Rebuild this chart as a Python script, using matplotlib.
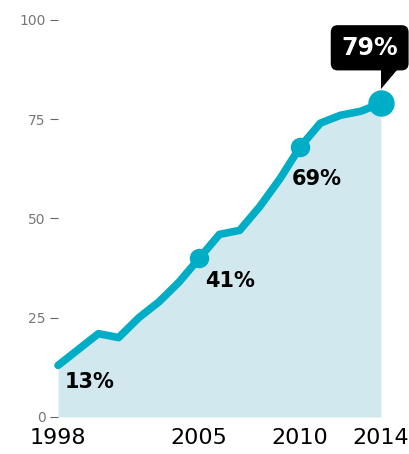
import matplotlib
matplotlib.use("Agg")
from matplotlib import pyplot as plt
from matplotlib.patches import Polygon

# share of value, per year
years = [1998, 1999, 2000, 2001, 2002, 2003, 2004, 2005, 2006, 2007,
         2008, 2009, 2010, 2011, 2012, 2013, 2014]
values = [13, 17, 21, 20, 25, 29, 34, 40, 46, 47,
          53, 60, 68, 74, 76, 77, 79]
marked_years = [2005, 2010]
marked_labels = ["41%", "69%"]
label_offsets = [(4, -9), (-6, -16)]
yticks = [0, 25, 50, 75, 100]
xticks = [1998, 2005, 2010, 2014]

line_color = "#00adc6"
fill_color = "#d1e9ee"

fig = plt.figure(figsize=(4.09, 4.54), dpi=100)
ax = fig.add_axes([0.142, 0.0815, 0.789, 0.8745])

ax.fill_between(years, values, 0, color=fill_color, lw=0)
ax.plot(years, values, color=line_color, lw=5.5, solid_capstyle="round",
        solid_joinstyle="round", clip_on=False, zorder=3)

# dots with labels
for yr, lab, off in zip(marked_years, marked_labels, label_offsets):
    v = values[years.index(yr)]
    ax.plot(yr, v, "o", color=line_color, ms=13, zorder=4, clip_on=False)
    ax.annotate(lab, (yr, v), xytext=off, textcoords="offset points",
                ha="left", va="top", fontsize=15, fontweight="bold", color="black")

ax.annotate("13%", (years[0], values[0]), xytext=(5, -5), textcoords="offset points",
            ha="left", va="top", fontsize=15, fontweight="bold", color="black")

# last point + callout
ax.plot(years[-1], values[-1], "o", color=line_color, ms=18, zorder=5, clip_on=False)
ax.annotate("79%", (years[-1], values[-1]), xytext=(-8, 40), textcoords="offset points",
            ha="center", va="center", fontsize=17, fontweight="bold", color="white",
            bbox=dict(boxstyle="round,pad=0.45,rounding_size=0.3", fc="black", ec="none"),
            annotation_clip=False, zorder=7)
ptr = Polygon([(years[-1], values[-1] + 3.5), (years[-1], values[-1] + 8.5),
               (years[-1] + 0.8, values[-1] + 8.5)],
              closed=True, fc="black", ec="none", clip_on=False, zorder=6)
ax.add_patch(ptr)

ax.set_xlim(years[0], years[-1])
ax.set_ylim(0, 100)
ax.set_yticks(yticks)
ax.set_xticks(xticks)
ax.set_xticklabels([str(x) for x in xticks], fontsize=16, color="black")
ax.tick_params(axis="x", length=0, pad=8)
ax.tick_params(axis="y", length=6, width=0.8, color="#666666", labelcolor="#777777",
               labelsize=10, pad=3)
for s in ax.spines.values():
    s.set_visible(False)

plt.savefig("out.png", dpi=100)
